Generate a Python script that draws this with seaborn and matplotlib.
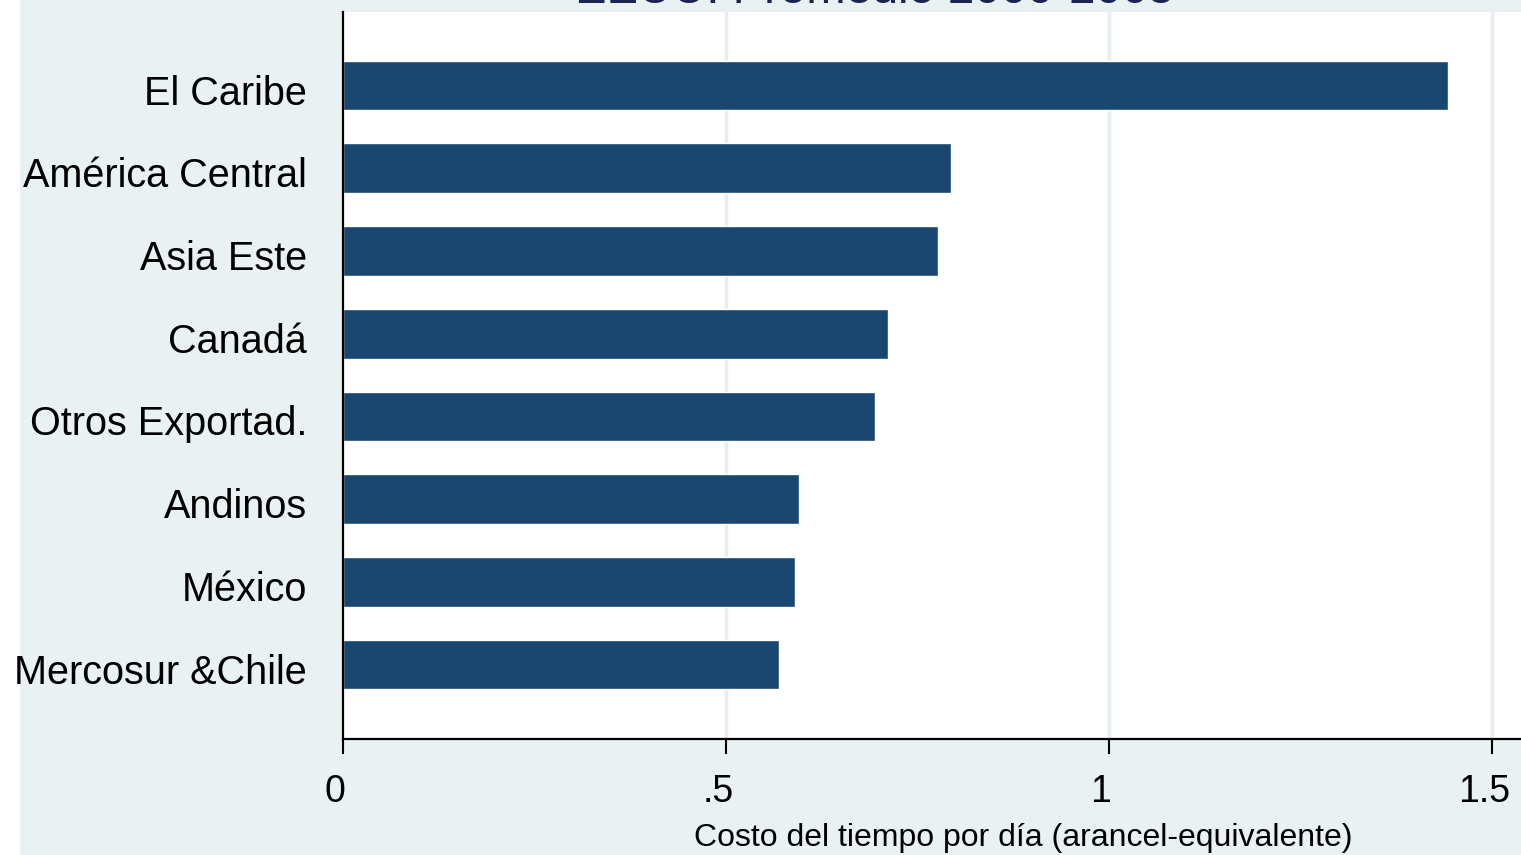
import matplotlib
matplotlib.use("Agg")
import matplotlib.pyplot as plt
import matplotlib.transforms as mtransforms
from matplotlib.patches import Rectangle
import seaborn as sns
import pandas as pd

categories = ["El Caribe", "América Central", "Asia Este", "Canadá",
              "Otros Exportad.", "Andinos", "México", "Mercosur &Chile"]
values = [1.443, 0.794, 0.777, 0.712, 0.695, 0.595, 0.590, 0.569]
xticks = [0, 0.5, 1, 1.5]
xticklabels = ["0", ".5", "1", "1.5"]
title = "EEUU: Promedio 2000-2005"
xlabel = "Costo del tiempo por día (arancel-equivalente)"

sns.set_theme(style="white")
plt.rcParams["font.family"] = ["Liberation Sans", "DejaVu Sans"]

W, H = 1521, 855
fig = plt.figure(figsize=(W / 100, H / 100), dpi=100)
fig.patch.set_facecolor("white")
fig.add_artist(Rectangle((20 / W, 0), 1, 1, transform=fig.transFigure,
                         facecolor="#E9F1F3", edgecolor="none", zorder=-10))

ax = fig.add_axes([343 / W, (H - 739) / H, (W - 343) / W, (739 - 12) / H])
ax.set_facecolor("white")

df = pd.DataFrame({"cat": categories, "val": values})
sns.barplot(data=df, x="val", y="cat", orient="h", color="#1a476f",
            saturation=1, width=0.6, ax=ax)

ax.set_xlim(0, 1.538)
ax.set_ylim(7.90, -0.889)
ax.set_xticks(xticks)
ax.set_xticklabels(xticklabels)
ax.set_xlabel("")
ax.set_ylabel("")

for xv in xticks[1:]:
    ax.axvline(xv, color="#E6EEF1", lw=2.5, zorder=0)
ax.set_axisbelow(True)

for s in ["top", "right"]:
    ax.spines[s].set_visible(False)
for s in ["left", "bottom"]:
    ax.spines[s].set_color("black")
    ax.spines[s].set_linewidth(1.6)

ax.tick_params(axis="y", length=0, pad=26, labelsize=28.5, labelcolor="black")
ax.tick_params(axis="x", length=11, width=1.5, direction="out", pad=14,
               labelsize=27, labelcolor="black", color="black", bottom=True)

xoff = mtransforms.ScaledTranslation(-8 / 100, 0, fig.dpi_scale_trans)
for lab in ax.get_xticklabels():
    lab.set_transform(lab.get_transform() + xoff)
yoff = mtransforms.ScaledTranslation(0, -4 / 100, fig.dpi_scale_trans)
for lab in ax.get_yticklabels():
    lab.set_transform(lab.get_transform() + yoff)

fig.text(875 / W, 1 - 3 / H, title, ha="center", va="baseline",
         fontsize=34, color="#1a2552")
fig.text(1023 / W, 1 - 838 / H, xlabel, ha="center", va="center",
         fontsize=23, color="black")

fig.savefig("out.png", dpi=100, facecolor=fig.get_facecolor())
